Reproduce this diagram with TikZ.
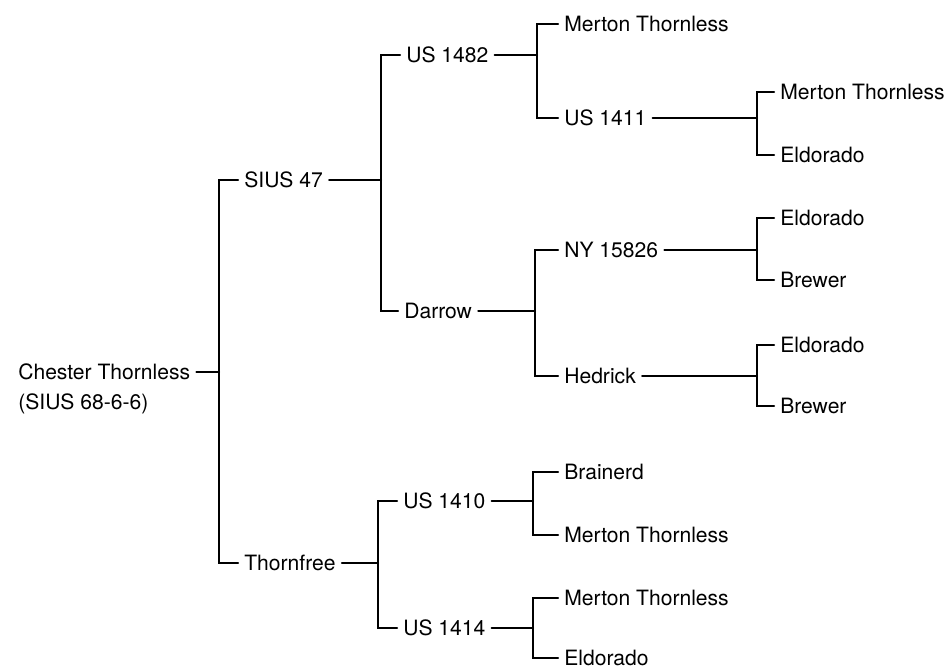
\documentclass[tikz,border=0pt]{standalone}
\usepackage{fontspec}
\setmainfont{TeX Gyre Heros}
\usepackage{tikz}

\begin{document}
\begin{tikzpicture}[x=0.02cm,y=-0.02cm,line width=1.2pt,line cap=round,
  font=\fontsize{12}{14}\selectfont,
  lbl/.style={anchor=west,inner xsep=3pt,inner ysep=0pt,text height=8.6pt,text depth=0pt}]
\useasboundingbox (0,0) rectangle (947,669);
% pedigree labels
\node[lbl] (root) at (12,372) {Chester Thornless};
\node[lbl] (rootid) at (12,402) {(SIUS 68-6-6)};
\node[lbl] (sius47) at (238,180) {SIUS 47};
\node[lbl] (thornfree) at (238,563) {Thornfree};
\node[lbl] (us1482) at (400,55) {US 1482};
\node[lbl] (darrow) at (398,311) {Darrow};
\node[lbl] (us1410) at (397,501) {US 1410};
\node[lbl] (us1414) at (397,628) {US 1414};
\node[lbl] (mt1) at (558,24) {Merton Thornless};
\node[lbl] (us1411) at (558,118) {US 1411};
\node[lbl] (ny15826) at (558,250) {NY 15826};
\node[lbl] (hedrick) at (558,376) {Hedrick};
\node[lbl] (brainerd) at (558,472) {Brainerd};
\node[lbl] (mt2) at (558,535) {Merton Thornless};
\node[lbl] (mt3) at (558,598) {Merton Thornless};
\node[lbl] (eld1) at (558,658) {Eldorado};
\node[lbl] (mt4) at (774,92) {Merton Thornless};
\node[lbl] (eld2) at (774,155) {Eldorado};
\node[lbl] (eld3) at (774,218) {Eldorado};
\node[lbl] (brw1) at (774,280) {Brewer};
\node[lbl] (eld4) at (774,345) {Eldorado};
\node[lbl] (brw2) at (774,406) {Brewer};
% bracket joints
\coordinate (j0) at (219,372);
\coordinate (j1) at (381,180);
\coordinate (j2) at (378,563);
\coordinate (j3) at (537,55);
\coordinate (j4) at (535,311);
\coordinate (j5) at (533,501);
\coordinate (j6) at (533,628);
\coordinate (j7) at (757,118);
\coordinate (j8) at (757,250);
\coordinate (j9) at (757,376);
% brackets
\draw (root.east) -- (j0);
\draw (sius47.west) -| (j0) |- (thornfree.west);
\draw (sius47.east) -- (j1);
\draw (us1482.west) -| (j1) |- (darrow.west);
\draw (thornfree.east) -- (j2);
\draw (us1410.west) -| (j2) |- (us1414.west);
\draw (us1482.east) -- (j3);
\draw (mt1.west) -| (j3) |- (us1411.west);
\draw (darrow.east) -- (j4);
\draw (ny15826.west) -| (j4) |- (hedrick.west);
\draw (us1410.east) -- (j5);
\draw (brainerd.west) -| (j5) |- (mt2.west);
\draw (us1414.east) -- (j6);
\draw (mt3.west) -| (j6) |- (eld1.west);
\draw (us1411.east) -- (j7);
\draw (mt4.west) -| (j7) |- (eld2.west);
\draw (ny15826.east) -- (j8);
\draw (eld3.west) -| (j8) |- (brw1.west);
\draw (hedrick.east) -- (j9);
\draw (eld4.west) -| (j9) |- (brw2.west);
\end{tikzpicture}
\end{document}
